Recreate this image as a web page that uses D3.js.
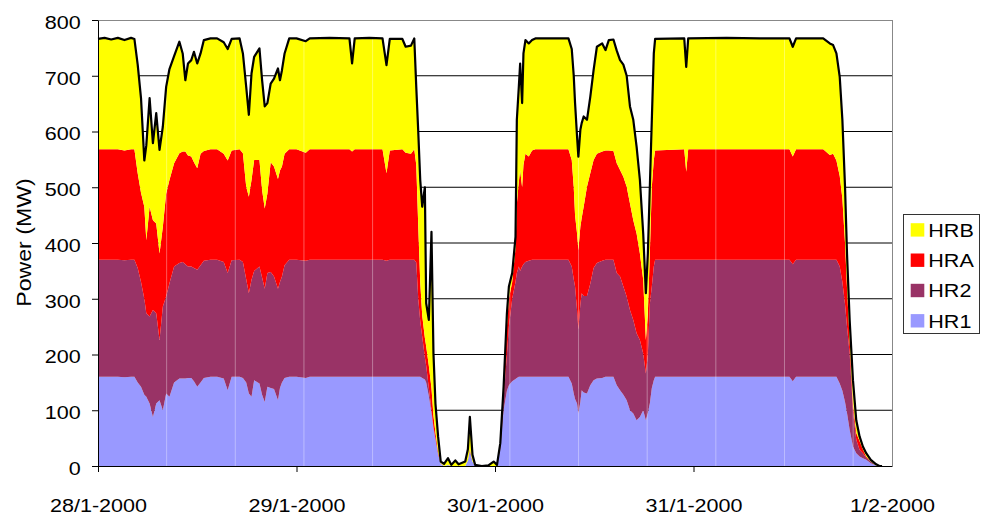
<!DOCTYPE html>
<html><head><meta charset="utf-8">
<script src="https://cdn.jsdelivr.net/npm/d3@7"></script>
<style>
body{margin:0;background:#fff}
text{font-family:Arial,"Liberation Sans",sans-serif;fill:#000}
</style>
</head><body>
<svg id="c" width="981" height="517"></svg>
<script>
// time in hours since 28/1-2000 00:00
const hours=[0,0.8,1.6,2.4,3.2,4,4.4,4.8,5.2,5.6,5.84,6.24,6.64,7.04,7.44,7.84,8.24,8.64,9.2,9.84,10.24,10.56,10.88,11.28,11.6,12,12.4,12.8,13.6,14.4,15.2,15.68,16.16,17.12,17.52,17.92,18.24,18.56,18.88,19.52,19.84,20.16,20.48,20.88,21.28,21.76,22,22.24,22.56,23.12,24,25.12,25.6,28,30.4,30.72,31.04,32.8,34.4,34.88,35.28,36.8,37.2,37.84,38.24,38.48,38.72,38.96,39.2,39.52,39.68,40,40.32,40.56,40.8,41.12,41.44,41.84,42.32,42.72,43.2,43.6,44.4,44.72,44.96,45.28,45.6,46.4,47.2,47.84,48.24,48.64,49.04,49.44,49.68,50.08,50.48,50.64,50.88,51.04,51.28,51.44,51.68,52.08,52.48,52.88,56.88,57.28,57.52,57.68,57.92,58.08,58.32,58.48,58.72,59.12,59.52,59.92,60.32,60.96,61.36,61.76,62.32,62.72,63.12,63.52,63.92,64.32,64.72,65.12,65.52,65.92,66.24,66.48,66.72,66.96,67.2,67.36,70.88,71.12,71.36,76,80,83.6,84,84.4,87.68,88.48,88.88,89.28,89.68,90,90.32,90.56,90.88,91.28,91.68,92.08,92.48,92.88,93.44,94.08,94.48,94.8];
const hr1=[160,160,160,160,159,160,160,150,142,128,124,112,88,112,118,100,130,124,150,157,157,157,158,158,152,142,150,158,160,160,157,136,160,160,158,150,130,124,154,148,128,115,142,140,138,118,140,150,158,160,160,158,160,160,160,160,160,160,160,160,160,160,160,160,160,160,160,160,158,155,150,125,95,68,48,20,4,0,2,0,0,0,0,10,25,8,0,0,0,0,0,30,100,135,145,152,156,158,160,160,160,160,160,160,160,160,160,148,130,120,112,94,115,136,132,130,145,154,157,158,160,160,160,145,136,128,118,100,94,82,88,100,82,95,112,140,154,160,160,160,160,160,160,160,152,160,160,160,160,160,148,135,115,95,65,35,23,17,14,11,5,1,0,0];
const hr2=[210,210,210,210,210,210,210,205,188,172,150,156,192,162,108,186,174,204,208,207,209,205,200,200,203,210,210,210,210,210,209,210,209,210,208,185,180,210,196,210,210,203,204,208,202,200,190,190,202,210,210,210,210,210,210,210,210,210,210,208,210,210,210,210,210,205,140,100,74,40,30,15,5,2,2,2,0,0,0,0,0,0,0,0,3,0,0,0,0,0,0,5,20,65,105,148,174,188,198,190,198,202,206,208,210,210,210,210,205,202,168,151,175,174,173,175,182,201,207,210,210,210,210,201,204,194,186,180,168,156,138,102,84,105,178,182,204,210,210,210,210,210,210,210,210,210,210,210,210,210,210,195,175,155,137,65,24,12,9,4,3,0,0,0];
const hra=[198,198,198,198,197,198,198,170,160,165,131,197,161,161,155,143,185,185,185,197,198,202,199,197,190,182,200,197,198,198,194,202,197,198,195,166,173,179,199,191,157,144,143,197,197,197,200,197,200,198,198,194,198,198,198,194,198,198,198,157,196,198,192,190,198,175,130,70,38,35,35,40,40,20,10,3,1,0,0,0,0,0,0,0,2,0,0,0,0,0,0,3,15,50,50,30,60,124,152,180,142,178,194,187,196,198,198,191,165,128,137,142,139,135,160,196,198,194,196,196,196,196,195,197,191,197,197,191,179,179,155,132,60,74,91,179,191,196,198,158,198,198,198,198,193,198,198,188,190,178,162,150,110,70,23,12,12,16,7,2,0,0,0,0];
const hrb=[198,200,197,200,198,200,198,195,170,83,170,195,138,198,186,180,191,199,192,200,176,128,165,173,198,188,180,199,199,199,200,200,200,199,179,179,147,191,185,200,197,183,162,141,158,198,162,173,180,199,199,200,199,200,199,158,199,200,199,194,200,198,190,194,199,140,170,183,195,270,77,82,280,112,52,28,3,4,12,2,10,3,8,20,58,12,2,0,1,8,2,3,7,24,22,16,21,151,170,192,151,200,204,203,198,199,199,199,200,201,174,168,174,170,162,120,137,161,192,194,180,198,200,202,197,201,199,174,180,156,132,83,84,107,120,120,191,200,199,188,199,200,199,199,197,199,199,200,195,192,178,141,101,61,37,42,23,8,5,6,3,2,0,0];
const seriesNames=["HR1","HR2","HRA","HRB"];
const seriesColors=["#9999FF","#993366","#FF0000","#FFFF00"];
const yTicks=[0,100,200,300,400,500,600,700,800];
const dayTicks=[0,24,48,72,96];
const dayLabels=["28/1-2000","29/1-2000","30/1-2000","31/1-2000","1/2-2000"];
const seamHours=[8.3,16.6,24.9,33.2,41.5,49.8,58.1,66.4,74.7,83.0,91.3];

const svg=d3.select("#c");
svg.append("rect").attr("width",981).attr("height",517).attr("fill","#fff");
const x=d3.scaleLinear().domain([0,96]).range([98,892]);
const y=d3.scaleLinear().domain([0,800]).range([466,20]);
const FS=18.6, SX=1.16;

// gridlines
svg.append("g").selectAll("line").data(yTicks.filter(v=>v>0&&v<800)).join("line")
  .attr("x1",x(0)).attr("x2",x(96)).attr("y1",d=>y(d)).attr("y2",d=>y(d))
  .attr("stroke","#000").attr("stroke-width",1);

const data=hours.map((h,i)=>({t:h,HR1:hr1[i],HR2:hr2[i],HRA:hra[i],HRB:hrb[i]}));
const stacked=d3.stack().keys(seriesNames)(data);
const area=d3.area().x(d=>x(d.data.t)).y0(d=>y(d[0])).y1(d=>y(d[1]));
svg.append("g").selectAll("path").data(stacked).join("path")
  .attr("d",area).attr("fill",(d,i)=>seriesColors[i]).attr("stroke","none");

// clip of total area for faint segment seams
const totalArea=d3.area().x(d=>x(d.data.t)).y0(y(0)).y1(d=>y(d[1]));
svg.append("clipPath").attr("id","tot").append("path").attr("d",totalArea(stacked[3]));
svg.append("g").attr("clip-path","url(#tot)").selectAll("line").data(seamHours).join("line")
  .attr("x1",d=>x(d)).attr("x2",d=>x(d)).attr("y1",y(800)).attr("y2",y(0))
  .attr("stroke","#fff").attr("stroke-opacity",0.35).attr("stroke-width",1);

// total line
const line=d3.line().x(d=>x(d.data.t)).y(d=>y(d[1]));
svg.append("path").attr("d",line(stacked[3])).attr("fill","none")
  .attr("stroke","#000").attr("stroke-width",2.2).attr("stroke-linejoin","round");

// plot border top/right
svg.append("line").attr("x1",x(0)).attr("x2",x(96)+0.5).attr("y1",y(800)+0.5).attr("y2",y(800)+0.5).attr("stroke","#888");
svg.append("line").attr("x1",x(96)+0.5).attr("x2",x(96)+0.5).attr("y1",y(800)).attr("y2",y(0)).attr("stroke","#888");

// y axis
const gy=svg.append("g").attr("transform",`translate(${x(0)},0)`)
  .call(d3.axisLeft(y).tickValues(yTicks).tickSize(6).tickSizeOuter(0));
gy.select(".domain").attr("stroke","#000");
gy.selectAll(".tick line").attr("stroke","#000");
gy.selectAll(".tick text").attr("x",0).attr("dy","0.45em")
  .attr("transform",`translate(-17.3,0) scale(${SX},1)`)
  .style("font-size",FS+"px").style("font-family","Arial,'Liberation Sans',sans-serif");

// x axis
const gx=svg.append("g").attr("transform",`translate(0,${y(0)})`)
  .call(d3.axisBottom(x).tickValues(dayTicks).tickSize(6).tickSizeOuter(0).tickFormat((d,i)=>dayLabels[i]));
gx.select(".domain").attr("stroke","#000");
gx.selectAll(".tick line").attr("stroke",(d)=>d===96?"none":"#000");
gx.selectAll(".tick text").attr("y",0).attr("dy",0)
  .attr("transform",`translate(0,45.7) scale(${SX},1)`)
  .style("font-size",FS+"px").style("font-family","Arial,'Liberation Sans',sans-serif");

// y title
svg.append("text").text("Power (MW)")
  .attr("transform","translate(31,242.5) rotate(-90) scale(1.1,1)")
  .attr("text-anchor","middle").style("font-size","21px");

// legend
const lg=svg.append("g");
lg.append("rect").attr("x",903.5).attr("y",214.5).attr("width",76).attr("height",119)
  .attr("fill","#fff").attr("stroke","#333").attr("stroke-width",1);
const legendOrder=[3,2,1,0];
legendOrder.forEach((si,k)=>{
  const base=236.6+30.3*k;
  lg.append("rect").attr("x",910.7).attr("y",base-13.4).attr("width",13.6).attr("height",13.4)
    .attr("fill",seriesColors[si]);
  lg.append("text").text(seriesNames[si])
    .attr("transform",`translate(928.3,${base}) scale(${SX},1)`)
    .style("font-size",FS+"px");
});
</script>
</body></html>
